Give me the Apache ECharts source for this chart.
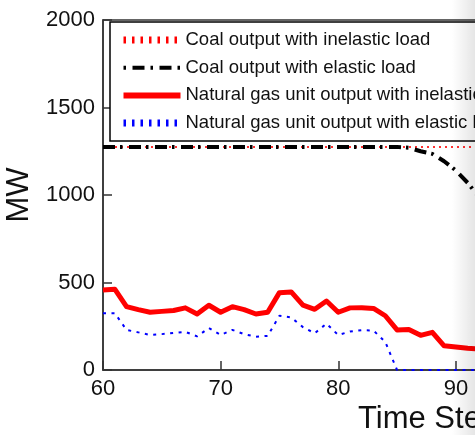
<!DOCTYPE html>
<html><head><meta charset="utf-8">
<script src="https://cdn.jsdelivr.net/npm/echarts@6/dist/echarts.min.js"></script>
<style>html,body{margin:0;padding:0;background:#fff}#c{width:475px;height:435px}</style>
</head><body><div id="c"></div>
<script>
var timeSteps = [60,61,62,63,64,65,66,67,68,69,70,71,72,73,74,75,76,77,78,79,80,81,82,83,84,85,86,87,88,89,90,91,92];
var coalInelastic = [1275,1275,1275,1275,1275,1275,1275,1275,1275,1275,1275,1275,1275,1275,1275,1275,1275,1275,1275,1275,1275,1275,1275,1275,1275,1275,1275,1275,1275,1275,1275,1275,1275];
var coalElastic = [1275,1275,1275,1275,1275,1275,1275,1275,1275,1275,1275,1275,1275,1275,1275,1275,1275,1275,1275,1275,1275,1275,1275,1275,1275,1275,1270,1250,1235,1193,1140,1070,985];
var gasInelastic = [457,462,362,345,330,335,340,355,320,370,330,362,345,320,330,442,446,371,347,394,330,355,356,352,310,229,232,198,215,138,132,124,120];
var gasElastic = [325,325,229,215,200,205,212,218,192,240,200,229,205,190,195,310,300,245,210,265,200,220,228,225,160,0,0,0,0,0,0,0,0];
var seriesNames = ['Coal output with inelastic load','Coal output with elastic load','Natural gas unit output with inelastic load','Natural gas unit output with elastic load'];
var xTicks = {min:60, max:100, interval:10};
var yTicks = {min:0, max:2000, interval:500};

function pairs(arr){ return timeSteps.map(function(t,i){ return [t, arr[i]]; }); }
var FONT = 'Liberation Sans, Arial, sans-serif';
var chart = echarts.init(document.getElementById('c'), null, {renderer:'canvas'});
chart.setOption({
  animation:false,
  backgroundColor:'#fff',
  grid:{left:103, top:20, width:470.5, height:350, containLabel:false, outerBoundsMode:'none',
    show:true, borderColor:'#333', borderWidth:1.5, backgroundColor:'transparent'},
  xAxis:{type:'value', min:xTicks.min, max:xTicks.max, interval:xTicks.interval,
    axisLine:{show:true, onZero:false, lineStyle:{color:'#333', width:1.5}},
    axisTick:{show:true, inside:true, length:9, lineStyle:{color:'#333', width:1.5}},
    axisLabel:{color:'#111', fontSize:22, fontFamily:FONT, margin:8, formatter:function(v){return String(v);}},
    splitLine:{show:false}},
  yAxis:{type:'value', min:yTicks.min, max:yTicks.max, interval:yTicks.interval,
    name:'MW', nameLocation:'middle', nameRotate:90, nameGap:64,
    nameTextStyle:{color:'#111', fontSize:31, fontFamily:FONT},
    axisLine:{show:true, lineStyle:{color:'#333', width:1.5}},
    axisTick:{show:true, inside:true, length:9, lineStyle:{color:'#333', width:1.5}},
    axisLabel:{color:'#111', fontSize:22, fontFamily:FONT, margin:8, formatter:function(v){return String(v);}},
    splitLine:{show:false}},
  legend:{orient:'vertical', left:110, top:22, padding:[8,40,8,10],
    backgroundColor:'#fff', borderColor:'#000', borderWidth:1.5, borderRadius:0,
    itemWidth:57, itemHeight:14, itemGap:7.7,
    textStyle:{color:'#111', fontSize:18.5, fontFamily:FONT, lineHeight:20},
    data:[
      {name:seriesNames[0], itemStyle:{opacity:0}, lineStyle:{width:7, type:[2.5,6], color:'#ff0000', cap:'butt'}},
      {name:seriesNames[1], itemStyle:{opacity:0}, lineStyle:{width:4, type:[2.5,6.5,12,6], color:'#000', cap:'butt'}},
      {name:seriesNames[2], itemStyle:{opacity:0}, lineStyle:{width:6, type:'solid', color:'#ff0000'}},
      {name:seriesNames[3], itemStyle:{opacity:0}, lineStyle:{width:7, type:[2.5,6], color:'#0000ff', cap:'butt'}}
    ]},
  graphic:[
    {type:'text', left:358, top:404, z:100, style:{text:'Time Step', fill:'#111', font:'31px Liberation Sans, Arial, sans-serif'}},
    {type:'rect', shape:{x:452, y:0, width:23, height:435}, z:200, silent:true,
     style:{fill:new echarts.graphic.LinearGradient(0,0,1,0,[{offset:0,color:'rgba(0,0,0,0)'},{offset:1,color:'rgba(0,0,0,0.1)'}])}}
  ],
  series:[
    {name:seriesNames[0], type:'line', data:pairs(coalInelastic), symbol:'none', z:2,
     lineStyle:{color:'#ff3030', width:2, type:[2,4]}, itemStyle:{color:'#ff0000'}},
    {name:seriesNames[1], type:'line', data:pairs(coalElastic), symbol:'none', z:3,
     lineStyle:{color:'#000', width:4, type:[12,5,2.5,6.5]}, itemStyle:{color:'#000'}},
    {name:seriesNames[2], type:'line', data:pairs(gasInelastic), symbol:'none', z:4,
     lineStyle:{color:'#ff0000', width:5, type:'solid', join:'round'}, itemStyle:{color:'#ff0000'}},
    {name:seriesNames[3], type:'line', data:pairs(gasElastic), symbol:'none', z:4,
     lineStyle:{color:'#0000ff', width:2, type:[3,5.5]}, itemStyle:{color:'#0000ff'}}
  ]
});
</script></body></html>
